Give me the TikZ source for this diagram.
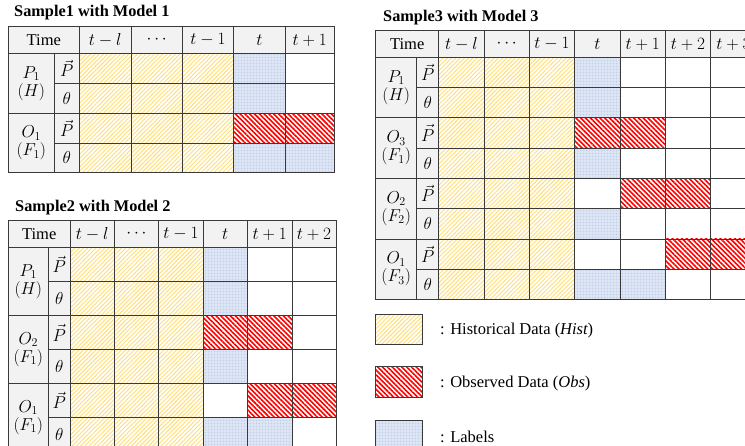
\documentclass[tikz,border=0pt]{standalone}
\usepackage{fontspec}
\setmainfont{Liberation Serif}
\usetikzlibrary{patterns.meta}

\definecolor{histyellow}{HTML}{FFD966}
\definecolor{obsred}{HTML}{FF0000}
\definecolor{labblue}{HTML}{9FB6E0}
\definecolor{cellgray}{HTML}{F2F2F2}
\definecolor{rulegray}{HTML}{3A3A3A}

\tikzset{
  hist/.style={pattern={Lines[angle=45,distance=3pt,line width=1.1pt]}, pattern color=histyellow!80},
  obs/.style={pattern={Lines[angle=-45,distance=3.4pt,line width=1.6pt]}, pattern color=obsred},
  lab/.style={preaction={fill=labblue!30}, pattern={Dots[distance=1.5pt,radius=0.4pt]}, pattern color=labblue!80},
  hdr/.style={fill=cellgray},
  cellline/.style={draw=rulegray, line width=0.8pt},
  txt/.style={font=\fontsize{16.5}{18}\selectfont, inner sep=0pt, align=center},
  title/.style={font=\fontsize{16.3}{18}\selectfont\bfseries, anchor=west, inner sep=0pt}
}

\begin{document}
\begin{tikzpicture}[x=1pt, y=-1pt]
\useasboundingbox (0,0) rectangle (745,446);
\clip (0,0) rectangle (745,446);

% Sample 1
\node[title] (s1title) at (14,12.5) {Sample1 with Model 1};
\fill[hdr] (8.3,26.7) rectangle (334.3,53.3);
\fill[hdr] (8.3,53.3) rectangle (79.3,172.3);
\fill[hist] (79.3,53.3) rectangle (233.7,172.3);
\fill[lab] (233.7,53.3) rectangle (285,113.3);
\fill[lab] (233.7,143) rectangle (334.3,172.3);
\fill[obs] (233.7,113.3) rectangle (334.3,143);
\draw[cellline] (8.3,26.7) rectangle (334.3,172.3);
\draw[cellline] (8.3,53.3) -- (334.3,53.3);
\draw[cellline] (8.3,113.3) -- (334.3,113.3);
\draw[cellline] (54.3,83.3) -- (334.3,83.3);
\draw[cellline] (54.3,143) -- (334.3,143);
\draw[cellline] (54.3,53.3) -- (54.3,172.3);
\foreach \x in {79.3,131,182.3,233.7,285}
  \draw[cellline] (\x,26.7) -- (\x,172.3);
\node[txt] (s1time) at (43.8,40) {Time};
\foreach \x/\t [count=\i] in {105.2/$t-l$, 156.7/$\cdots$, 208/$t-1$, 259.4/$t$, 309.7/$t+1$}
  \node[txt] (s1h\i) at (\x,40) {\t};
\node[txt] (s1p1) at (31.3,83.3) {$P_1$\\$(H)$};
\node[txt] (s1o1) at (31.3,143) {$O_1$\\$(F_1)$};
\foreach \y/\s [count=\i] in {68.3/$\vec{P}$, 98.3/$\theta$, 128.2/$\vec{P}$, 157.7/$\theta$}
  \node[txt] (s1v\i) at (66.8,\y) {\s};

% Sample 2
\node[title] (s2title) at (15,207.5) {Sample2 with Model 2};
\fill[hdr] (8.3,220.7) rectangle (336,247.3);
\fill[hdr] (8.3,247.3) rectangle (70,451.3);
\fill[hist] (70,247.3) rectangle (203,451.3);
\fill[lab] (203,247.3) rectangle (247.3,315.7);
\fill[lab] (203,349.7) rectangle (247.3,383.3);
\fill[lab] (203,417.3) rectangle (292,451.3);
\fill[obs] (203,315.7) rectangle (292,349.7);
\fill[obs] (247.3,383.3) rectangle (336,417.3);
\draw[cellline] (8.3,220.7) rectangle (336,451.3);
\foreach \y in {247.3,315.7,383.3}
  \draw[cellline] (8.3,\y) -- (336,\y);
\foreach \y in {281.7,349.7,417.3}
  \draw[cellline] (48.3,\y) -- (336,\y);
\draw[cellline] (48.3,247.3) -- (48.3,451.3);
\foreach \x in {70,114.3,158.7,203,247.3,292}
  \draw[cellline] (\x,220.7) -- (\x,451.3);
\node[txt] (s2time) at (39.2,234) {Time};
\foreach \x/\t [count=\i] in {92.2/$t-l$, 136.5/$\cdots$, 180.9/$t-1$, 225.2/$t$, 269.7/$t+1$, 314/$t+2$}
  \node[txt] (s2h\i) at (\x,234) {\t};
\node[txt] (s2p1) at (28.3,281.5) {$P_1$\\$(H)$};
\node[txt] (s2o2) at (28.3,349.5) {$O_2$\\$(F_1)$};
\node[txt] (s2o1) at (28.3,417.3) {$O_1$\\$(F_1)$};
\foreach \y/\s [count=\i] in {264.5/$\vec{P}$, 298.7/$\theta$, 332.7/$\vec{P}$, 366.5/$\theta$, 400.3/$\vec{P}$, 434.3/$\theta$}
  \node[txt] (s2v\i) at (59.2,\y) {\s};

% Sample 3
\node[title] (s3title) at (383,17.5) {Sample3 with Model 3};
\fill[hdr] (375.7,30.7) rectangle (756,57.3);
\fill[hdr] (375.7,57.3) rectangle (438.7,299.3);
\fill[hist] (438.7,57.3) rectangle (574.7,299.3);
\fill[lab] (574.7,57.3) rectangle (620,117.7);
\fill[lab] (574.7,148) rectangle (620,178.3);
\fill[lab] (574.7,208.6) rectangle (620,239);
\fill[lab] (574.7,269.2) rectangle (665.3,299.3);
\fill[obs] (574.7,117.7) rectangle (665.3,148);
\fill[obs] (620,178.3) rectangle (710.7,208.6);
\fill[obs] (665.3,239) rectangle (756,269.2);
\draw[cellline] (375.7,30.7) rectangle (756,299.3);
\foreach \y in {57.3,117.7,178.3,239}
  \draw[cellline] (375.7,\y) -- (756,\y);
\foreach \y in {87.5,148,208.6,269.2}
  \draw[cellline] (416.7,\y) -- (756,\y);
\draw[cellline] (416.7,57.3) -- (416.7,299.3);
\foreach \x in {438.7,484,529.3,574.7,620,665.3,710.7}
  \draw[cellline] (\x,30.7) -- (\x,299.3);
\node[txt] (s3time) at (407.2,44) {Time};
\foreach \x/\t [count=\i] in {461.4/$t-l$, 506.7/$\cdots$, 552/$t-1$, 597.4/$t$, 642.7/$t+1$, 688/$t+2$, 733.4/$t+3$}
  \node[txt] (s3h\i) at (\x,44) {\t};
\node[txt] (s3p1) at (396.2,87.5) {$P_1$\\$(H)$};
\node[txt] (s3o3) at (396.2,148) {$O_3$\\$(F_1)$};
\node[txt] (s3o2) at (396.2,208.6) {$O_2$\\$(F_2)$};
\node[txt] (s3o1) at (396.2,269.2) {$O_1$\\$(F_3)$};
\foreach \y/\s [count=\i] in {72.4/$\vec{P}$, 102.6/$\theta$, 132.9/$\vec{P}$, 163.2/$\theta$, 193.5/$\vec{P}$, 223.8/$\theta$, 254.1/$\vec{P}$, 284.3/$\theta$}
  \node[txt] (s3v\i) at (427.7,\y) {\s};

% legend
\draw[cellline, hist] (375.7,314.3) rectangle (422.3,344.3);
\draw[cellline, obs] (375.7,366.7) rectangle (422.3,397.3);
\draw[cellline, lab] (375.7,420) rectangle (422.3,450);
\node[txt, anchor=west] (keyhist) at (440,331) {: Historical Data ($\mathit{Hist}$)};
\node[txt, anchor=west] (keyobs) at (440,383.5) {: Observed Data ($\mathit{Obs}$)};
\node[txt, anchor=west] (keylab) at (440,436.5) {: Labels};
\end{tikzpicture}
\end{document}
